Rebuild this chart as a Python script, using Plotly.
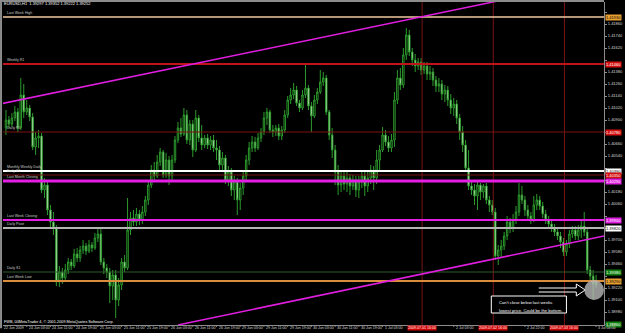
import plotly.graph_objects as go

# ---------------- data (EURUSD, H1) ----------------
bar_index = list(range(200))

opens = [1.4082,1.4090,1.4086,1.4092,1.4098,1.4082,1.4115,1.4098,1.4102,1.4093,
 1.4063,1.4072,1.4074,1.4020,1.4025,1.4000,1.3988,1.3982,1.3928,1.3938,
 1.3932,1.3940,1.3948,1.3944,1.3956,1.3952,1.3960,1.3964,1.3959,1.3965,
 1.3962,1.3972,1.3976,1.3948,1.3942,1.3938,1.3924,1.3935,1.3910,1.3925,
 1.3948,1.3942,1.3980,1.3992,1.3988,1.3996,1.3990,1.3998,1.4010,1.4025,
 1.4040,1.4034,1.4048,1.4058,1.4035,1.4050,1.4034,1.4050,1.4070,1.4082,
 1.4076,1.4095,1.4070,1.4086,1.4060,1.4092,1.4072,1.4065,1.4072,1.4065,
 1.4070,1.4062,1.4060,1.4045,1.4052,1.4030,1.4038,1.4020,1.4028,1.4010,
 1.4022,1.4034,1.4050,1.4062,1.4068,1.4062,1.4072,1.4078,1.4092,1.4098,
 1.4080,1.4078,1.4082,1.4074,1.4080,1.4095,1.4110,1.4115,1.4120,1.4107,
 1.4102,1.4115,1.4122,1.4104,1.4094,1.4110,1.4118,1.4128,1.4132,1.4098,
 1.4075,1.4060,1.4038,1.4025,1.4034,1.4026,1.4032,1.4024,1.4030,1.4020,
 1.4028,1.4034,1.4024,1.4032,1.4040,1.4032,1.4050,1.4060,1.4075,1.4068,
 1.4062,1.4070,1.4110,1.4132,1.4125,1.4155,1.4175,1.4158,1.4150,1.4144,
 1.4148,1.4140,1.4144,1.4136,1.4138,1.4130,1.4124,1.4126,1.4116,1.4120,
 1.4110,1.4102,1.4106,1.4092,1.4078,1.4065,1.4042,1.4024,1.4020,1.4014,
 1.4025,1.4018,1.4024,1.4010,1.4005,1.3998,1.3954,1.3960,1.3964,1.3974,
 1.3988,1.3982,1.3990,1.3998,1.4015,1.4010,1.4000,1.3994,1.3990,1.4005,
 1.4010,1.4004,1.3996,1.3990,1.3986,1.3982,1.3978,1.3974,1.3968,1.3958,
 1.3966,1.3976,1.3980,1.3974,1.3980,1.3984,1.3978,1.3940,1.3934,1.39297]

highs = [1.4100,1.4094,1.4097,1.4104,1.4102,1.4132,1.4126,1.4110,1.4105,1.4097,
 1.4078,1.4080,1.4077,1.4032,1.4028,1.4005,1.3998,1.3985,1.3944,1.3942,
 1.3946,1.3952,1.3951,1.3961,1.3962,1.3964,1.3970,1.3967,1.3970,1.3968,
 1.3977,1.3982,1.3982,1.3952,1.3946,1.3942,1.3940,1.3940,1.3932,1.3952,
 1.3955,1.4012,1.3998,1.4000,1.4002,1.4000,1.4004,1.4014,1.4030,1.4045,
 1.4048,1.4055,1.4062,1.4060,1.4057,1.4054,1.4055,1.4074,1.4088,1.4092,
 1.4102,1.4100,1.4090,1.4090,1.4100,1.4095,1.4085,1.4075,1.4076,1.4074,
 1.4075,1.4070,1.4064,1.4058,1.4055,1.4044,1.4042,1.4034,1.4032,1.4027,
 1.4038,1.4055,1.4068,1.4074,1.4073,1.4077,1.4082,1.4098,1.4102,1.4100,
 1.4085,1.4085,1.4086,1.4084,1.4100,1.4114,1.4122,1.4127,1.4124,1.4110,
 1.4120,1.4147,1.4125,1.4108,1.4115,1.4122,1.4140,1.4138,1.4135,1.4100,
 1.4082,1.4065,1.4045,1.4040,1.4038,1.4038,1.4036,1.4035,1.4034,1.4034,
 1.4040,1.4038,1.4038,1.4045,1.4044,1.4060,1.4065,1.4083,1.4080,1.4074,
 1.4076,1.4118,1.4140,1.4142,1.4162,1.4182,1.4180,1.4162,1.4156,1.4152,
 1.4152,1.4148,1.4148,1.4144,1.4142,1.4134,1.4132,1.4130,1.4125,1.4124,
 1.4116,1.4112,1.4110,1.4096,1.4084,1.4070,1.4060,1.4030,1.4026,1.4028,
 1.4027,1.4026,1.4027,1.4014,1.4010,1.4002,1.3965,1.3970,1.3978,1.3994,
 1.3992,1.3996,1.4004,1.4027,1.4024,1.4014,1.4005,1.3998,1.4014,1.4016,
 1.4014,1.4008,1.4000,1.3994,1.3990,1.3986,1.3982,1.3978,1.3972,1.3970,
 1.3980,1.3984,1.3984,1.3985,1.3990,1.3998,1.3982,1.3944,1.3940,1.39352]

lows = [1.4075,1.4082,1.4083,1.4089,1.4078,1.4080,1.4092,1.4095,1.4089,1.4060,
 1.4055,1.4062,1.4017,1.4012,1.3995,1.3982,1.3975,1.3924,1.3923,1.3926,
 1.3928,1.3936,1.3940,1.3942,1.3948,1.3948,1.3956,1.3955,1.3957,1.3958,
 1.3960,1.3968,1.3945,1.3936,1.3932,1.3907,1.3910,1.3892,1.3904,1.3920,
 1.3938,1.3940,1.3975,1.3984,1.3984,1.3985,1.3986,1.3994,1.4005,1.4022,
 1.4030,1.4032,1.4044,1.4032,1.4032,1.4025,1.4030,1.4047,1.4067,1.4073,
 1.4074,1.4066,1.4065,1.4053,1.4058,1.4068,1.4060,1.4062,1.4061,1.4060,
 1.4058,1.4050,1.4040,1.4038,1.4026,1.4024,1.4014,1.4010,1.3995,1.4000,
 1.4015,1.4030,1.4045,1.4058,1.4058,1.4060,1.4068,1.4075,1.4085,1.4077,
 1.4073,1.4074,1.4070,1.4070,1.4077,1.4092,1.4106,1.4111,1.4104,1.4098,
 1.4100,1.4112,1.4100,1.4078,1.4092,1.4106,1.4116,1.4124,1.4095,1.4070,
 1.4052,1.4025,1.4015,1.4018,1.4020,1.4018,1.4015,1.4020,1.4013,1.4012,
 1.4022,1.4014,1.4018,1.4026,1.4020,1.4026,1.4040,1.4058,1.4064,1.4058,
 1.4058,1.4063,1.4106,1.4120,1.4122,1.4150,1.4154,1.4144,1.4138,1.4140,
 1.4135,1.4136,1.4130,1.4130,1.4124,1.4118,1.4118,1.4110,1.4108,1.4104,
 1.4096,1.4094,1.4086,1.4070,1.4058,1.4038,1.4020,1.4015,1.4005,1.4000,
 1.4010,1.4012,1.4006,1.3998,1.3995,1.3950,1.3945,1.3952,1.3960,1.3970,
 1.3977,1.3978,1.3986,1.3994,1.4006,1.3994,1.3990,1.3986,1.3988,1.4000,
 1.4000,1.3992,1.3986,1.3982,1.3978,1.3974,1.3970,1.3962,1.3954,1.3954,
 1.3962,1.3972,1.3970,1.3970,1.3972,1.3974,1.3936,1.3928,1.3910,1.39222]

closes = [1.4090,1.4086,1.4092,1.4098,1.4082,1.4115,1.4098,1.4102,1.4093,1.4063,
 1.4072,1.4074,1.4020,1.4025,1.4000,1.3988,1.3982,1.3928,1.3938,1.3932,
 1.3940,1.3948,1.3944,1.3956,1.3952,1.3960,1.3964,1.3959,1.3965,1.3962,
 1.3972,1.3976,1.3948,1.3942,1.3938,1.3924,1.3935,1.3910,1.3925,1.3948,
 1.3942,1.3980,1.3992,1.3988,1.3996,1.3990,1.3998,1.4010,1.4025,1.4040,
 1.4034,1.4048,1.4058,1.4035,1.4050,1.4034,1.4050,1.4070,1.4082,1.4076,
 1.4095,1.4070,1.4086,1.4060,1.4092,1.4072,1.4065,1.4072,1.4065,1.4070,
 1.4062,1.4060,1.4045,1.4052,1.4030,1.4038,1.4020,1.4028,1.4010,1.4022,
 1.4034,1.4050,1.4062,1.4068,1.4062,1.4072,1.4078,1.4092,1.4098,1.4080,
 1.4078,1.4082,1.4074,1.4080,1.4095,1.4110,1.4115,1.4120,1.4107,1.4102,
 1.4115,1.4122,1.4104,1.4094,1.4110,1.4118,1.4128,1.4132,1.4098,1.4075,
 1.4060,1.4038,1.4025,1.4034,1.4026,1.4032,1.4024,1.4030,1.4020,1.4028,
 1.4034,1.4024,1.4032,1.4040,1.4032,1.4050,1.4060,1.4075,1.4068,1.4062,
 1.4070,1.4110,1.4132,1.4125,1.4155,1.4175,1.4158,1.4150,1.4144,1.4148,
 1.4140,1.4144,1.4136,1.4138,1.4130,1.4124,1.4126,1.4116,1.4120,1.4110,
 1.4102,1.4106,1.4092,1.4078,1.4065,1.4042,1.4024,1.4020,1.4014,1.4025,
 1.4018,1.4024,1.4010,1.4005,1.3998,1.3954,1.3960,1.3964,1.3974,1.3988,
 1.3982,1.3990,1.3998,1.4015,1.4010,1.4000,1.3994,1.3990,1.4005,1.4010,
 1.4004,1.3996,1.3990,1.3986,1.3982,1.3978,1.3974,1.3968,1.3958,1.3966,
 1.3976,1.3980,1.3974,1.3980,1.3984,1.3978,1.3940,1.3934,1.3926,1.39252]

# horizontal levels
level_names  = ["Last Week High", "Weekly R1", "Daily R2", "Monthly Weekly Daily", "Daily R1",
                "Last Month Closing", "Last Week Closing", "Daily Pivot", "Daily S1", "Last Week Low"]
level_prices = [1.4193, 1.4146, 1.4078, 1.4039, 1.4035, 1.4029, 1.3990, 1.3982, 1.3938, 1.3929]
level_colors = ["#f0c8a0", "#c0141c", "#7a1212", "#ffffff", "#7a1212",
                "#e41ee4", "#e41ee4", "#b4b4b4", "#2d5a2d", "#d98c3c"]
level_widths = [1.5, 2, 1, 2, 1, 3, 2, 2, 1, 2]
box_colors   = ["#e8a030", "#d41010", "#d41010", "#ffffff", "#d41010",
                "#e020e0", "#e020e0", "#ffffff", "#108010", "#e8a030"]
box_text     = ["black", "white", "white", "black", "white", "white", "white", "black", "white", "black"]
extra_box_price = 1.3886

# channel trendlines (bar index, price)
upper_line = [(-2, 1.4106), (201.67, 1.4231)]
lower_line = [(58, 1.3885), (201.67, 1.3974)]

# vertical period lines
vline_x = [140.33, 164.33, 188.33]
vline_labels = ["2009.07.01 16:00", "2009.07.02 16:00", "2009.07.03 16:00"]

# time-axis labels (those covered by the red period labels are left out)
time_label_pos = [7, 15, 23, 31, 39, 47, 55, 63, 71, 79, 87, 95, 103, 111, 119, 127,
                  151, 175, 199]
time_labels = ["24 Jun 03:00", "24 Jun 11:00", "24 Jun 19:00", "25 Jun 03:00", "25 Jun 11:00",
               "25 Jun 19:00", "26 Jun 03:00", "26 Jun 11:00", "26 Jun 19:00", "29 Jun 03:00",
               "29 Jun 11:00", "29 Jun 19:00", "30 Jun 03:00", "30 Jun 11:00", "30 Jun 19:00",
               "1 Jul 03:00", "2 Jul 03:00", "2 Jul 22:00", "3 Jul 04:00"]

price_ticks = [1.4198, 1.4186, 1.4174, 1.4162, 1.4150, 1.4138, 1.4126, 1.4114, 1.4102, 1.4090,
               1.4078, 1.4066, 1.4054, 1.4042, 1.4030, 1.4018, 1.4006, 1.3994, 1.3982, 1.3970,
               1.3958, 1.3946, 1.3934, 1.3922, 1.3910, 1.3898, 1.3886]

note_lines = ["Can't close below last weeks", "lowest price. Could be the bottom."]

FONT = "Liberation Sans"
CANDLE_GREEN = "#2c9a2c"

# tick labels covered by the coloured price boxes are left blank (as in the terminal)
box_prices = level_prices + [extra_box_price]
tick_text = []
for v in price_ticks:
    covered = min(abs(v - b) for b in box_prices) < 0.00055
    tick_text.append("" if covered else f"{v:.5f}")

fig = go.Figure()
fig.add_trace(go.Candlestick(
    x=bar_index, open=opens, high=highs, low=lows, close=closes,
    increasing=dict(line=dict(color=CANDLE_GREEN, width=1), fillcolor="#000000"),
    decreasing=dict(line=dict(color=CANDLE_GREEN, width=1), fillcolor="#f4f8ec"),
    whiskerwidth=0, showlegend=False, hoverinfo="skip"))

shapes = []
annotations = []

# frame strips
shapes.append(dict(type="rect", xref="paper", yref="paper", x0=-3/608, x1=-1/608, y0=-0.01, y1=1.01,
                   fillcolor="#8c8c8c", line=dict(width=0), layer="above"))
shapes.append(dict(type="rect", xref="paper", yref="paper", x0=-0.01, x1=1.0, y0=1.0, y1=1.0062,
                   fillcolor="#8c8c8c", line=dict(width=0), layer="above"))

# vertical lines
for vx in vline_x:
    shapes.append(dict(type="line", xref="x", yref="paper", x0=vx, x1=vx, y0=0, y1=1,
                       line=dict(color="#7a1414", width=1)))

# horizontal levels
for name, p, c, w in zip(level_names, level_prices, level_colors, level_widths):
    shapes.append(dict(type="line", xref="paper", yref="y", x0=0, x1=1, y0=p, y1=p,
                       line=dict(color=c, width=w)))
    annotations.append(dict(xref="paper", yref="y", x=0.003, y=p, text=name, showarrow=False,
                            xanchor="left", yanchor="bottom", yshift=0,
                            font=dict(family=FONT, size=3.6, color="#c8c8c8")))

# price boxes on the right axis
for p, c, tc in zip(level_prices, box_colors, box_text):
    annotations.append(dict(xref="paper", yref="y", x=1.0 + 1/608, y=p, text=f"{p:.5f}",
                            showarrow=False, xanchor="left", yanchor="middle", bgcolor=c,
                            borderpad=0, font=dict(family=FONT, size=4, color=tc)))
annotations.append(dict(xref="paper", yref="y", x=1.0 + 1/608, y=extra_box_price,
                        text=f"{extra_box_price:.5f}", showarrow=False, xanchor="left",
                        yanchor="middle", bgcolor="#108010", borderpad=0,
                        font=dict(family=FONT, size=4, color="white")))

# trendlines
for (x0, y0), (x1, y1) in [upper_line, lower_line]:
    shapes.append(dict(type="line", xref="x", yref="y", x0=x0, y0=y0, x1=x1, y1=y1,
                       line=dict(color="#e01ee0", width=1.5)))

# note box, arrow and circle
shapes.append(dict(type="rect", xref="x", yref="y", x0=163.67, x1=189.0, y0=1.3897, y1=1.3914,
                   fillcolor="#000000", line=dict(color="#ffffff", width=1)))
shapes.append(dict(type="path", xref="x", yref="y",
                   path="M 179.67,1.3922 L 192.33,1.3922 L 192.33,1.3926 L 195.33,1.3920 "
                        "L 192.33,1.3914 L 192.33,1.3918 L 179.67,1.3918",
                   line=dict(color="#ffffff", width=1)))
shapes.append(dict(type="circle", xref="x", yref="y", x0=195.0, x1=201.67, y0=1.3910, y1=1.3930,
                   fillcolor="rgba(185,185,185,0.8)", line=dict(width=0)))
for k, line in enumerate(note_lines):
    annotations.append(dict(xref="x", yref="y", x=165.67, y=1.3908 - 0.0008 * k, text=line,
                            showarrow=False, xanchor="left", yanchor="middle",
                            font=dict(family=FONT, size=4.2, color="#ffffff")))

# time axis labels
annotations.append(dict(xref="paper", yref="paper", x=-1/608, y=-0.0093, text="22 Jun 2009",
                        showarrow=False, xanchor="left", yanchor="middle",
                        font=dict(family=FONT, size=3.6, color="#d8d8d8")))
for pos, lab in zip(time_label_pos, time_labels):
    annotations.append(dict(xref="x", yref="paper", x=pos, y=-0.0093, text=lab, showarrow=False,
                            xanchor="left", yanchor="middle",
                            font=dict(family=FONT, size=3.6, color="#d8d8d8")))
    shapes.append(dict(type="line", xref="x", yref="paper", x0=pos, x1=pos, y0=0, y1=-0.006,
                       line=dict(color="#8c8c8c", width=1)))
for vx, lab in zip(vline_x, vline_labels):
    annotations.append(dict(xref="x", yref="paper", x=vx, y=-0.0093, text=lab, showarrow=False,
                            xanchor="center", yanchor="middle", bgcolor="#d00000", borderpad=0,
                            font=dict(family=FONT, size=3.6, color="#ffffff")))

# header and copyright
annotations.append(dict(xref="paper", yref="paper", x=-1/608, y=0.994,
                        text="EURUSD,H1  1.39297 1.39352 1.39222 1.39252", showarrow=False,
                        xanchor="left", yanchor="middle",
                        font=dict(family=FONT, size=4, color="#ffffff")))
annotations.append(dict(xref="paper", yref="paper", x=-1/608, y=0.0095,
                        text="FWB, 00MetaTrader 4, \u00a9 2001-2009 MetaQuotes Software Corp.",
                        showarrow=False, xanchor="left", yanchor="middle",
                        font=dict(family=FONT, size=3.8, color="#ffffff")))

fig.update_layout(
    width=625, height=333, margin=dict(l=3, r=14, t=2, b=8),
    paper_bgcolor="#000000", plot_bgcolor="#000000", showlegend=False,
    xaxis=dict(range=[-1, 201.67], showgrid=False, zeroline=False, showticklabels=False,
               ticks="", rangeslider=dict(visible=False), showline=True,
               linecolor="#8c8c8c", linewidth=1, fixedrange=True),
    yaxis=dict(range=[1.3885, 1.4208], side="right", showgrid=False, zeroline=False,
               tickvals=price_ticks, ticktext=tick_text,
               tickfont=dict(family=FONT, size=4, color="#d8d8d8"),
               ticks="outside", ticklen=2, tickcolor="#8c8c8c",
               showline=True, linecolor="#8c8c8c", linewidth=1, fixedrange=True),
    shapes=shapes, annotations=annotations,
)

fig.write_html("out.html")
